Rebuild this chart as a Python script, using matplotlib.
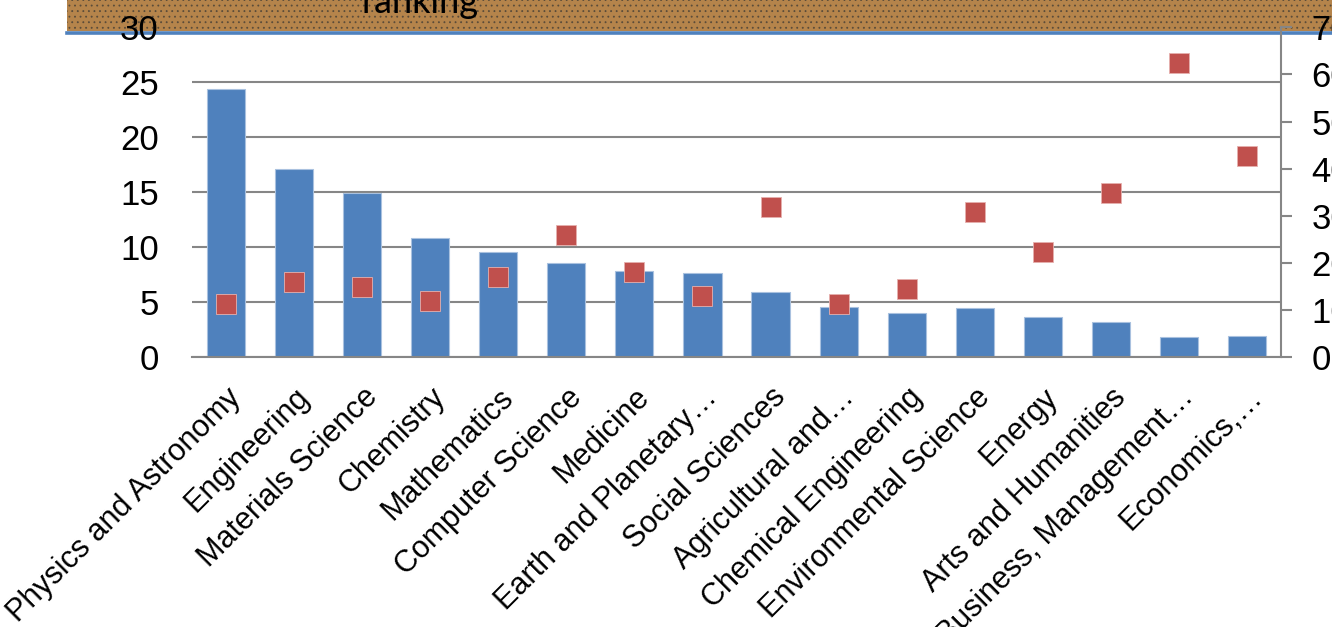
import matplotlib
matplotlib.use('Agg')
from matplotlib import pyplot as plt
from matplotlib import font_manager
from matplotlib.patches import Rectangle
from matplotlib.lines import Line2D

subjects = ['Physics and Astronomy', 'Engineering', 'Materials Science', 'Chemistry',
            'Mathematics', 'Computer Science', 'Medicine', 'Earth and Planetary…',
            'Social Sciences', 'Agricultural and…', 'Chemical Engineering',
            'Environmental Science', 'Energy', 'Arts and Humanities',
            'Business, Management…', 'Economics,…']
share = [24.4, 17.1, 14.9, 10.8, 9.55, 8.6, 7.8, 7.7,
         5.9, 4.57, 4.03, 4.48, 3.64, 3.21, 1.82, 1.94]
ranking = [11.3, 16.0, 14.85, 11.9, 17.1, 25.9, 18.0, 12.9,
           31.9, 11.3, 14.4, 30.8, 22.4, 34.8, 62.4, 42.6]
left_ticks = [0, 5, 10, 15, 20, 25, 30]
right_ticks = [0, 10, 20, 30, 40, 50, 60, 70]

# a narrow Arial-like face if there is one, else Liberation Sans
names = {f.name for f in font_manager.fontManager.ttflist}
if 'Liberation Sans Narrow' in names:
    plt.rcParams['font.family'] = ['Liberation Sans Narrow', 'DejaVu Sans']
else:
    plt.rcParams['font.family'] = ['Liberation Sans', 'DejaVu Sans']
plt.rcParams['hatch.linewidth'] = 0.6

fig = plt.figure(figsize=(13.32, 6.27), dpi=100)
ax = fig.add_axes([192/1332, 1-357.3/627, (1281-192)/1332, 330/627])
ax2 = ax.twinx()

# title banner, mostly cut off at the top
fig.patches.append(Rectangle((67/1332, 1-31/627), 1, 31/627, transform=fig.transFigure,
                             facecolor='#b5844b', edgecolor='#5a4c3a', hatch='...',
                             linewidth=0, zorder=-5))
fig.lines.append(Line2D([67/1332, 1], [1-32.5/627, 1-32.5/627], transform=fig.transFigure,
                        color='#4f81bd', linewidth=2.6, zorder=-4))
fig.text(362/1332, 1-13/627, 'ranking', family='Lato', fontsize=26, va='baseline',
         ha='left', zorder=-3)

ax.patch.set_visible(False)
ax2.patch.set_visible(False)

x = list(range(len(subjects)))
ax.bar(x, share, width=0.56, color='#4f81bd', edgecolor='#a9c1df', linewidth=0.8, zorder=2)
ax2.plot(x, ranking, linestyle='none', marker='s', markersize=14, color='#c0504d',
         markeredgecolor='#e6b0ae', markeredgewidth=0.6, zorder=3)

ax.set_xlim(-0.5, len(subjects) - 0.5)
ax.set_ylim(0, 30)
ax2.set_ylim(0, 70)
ax.set_yticks(left_ticks)
ax2.set_yticks(right_ticks)
ax.yaxis.grid(True, color='#868686', linewidth=1.5, zorder=0)
ax.set_axisbelow(True)
ax.get_ygridlines()[-1].set_visible(False)

for s in ['top', 'left', 'right']:
    ax.spines[s].set_visible(False)
for s in ['top', 'left', 'bottom']:
    ax2.spines[s].set_visible(False)
ax.spines['bottom'].set_color('#868686')
ax.spines['bottom'].set_linewidth(1.5)
ax2.spines['right'].set_color('#868686')
ax2.spines['right'].set_linewidth(1.5)

ax.tick_params(axis='y', length=0, pad=24, labelsize=25)
ax2.tick_params(axis='y', length=8, width=1.5, color='#868686', direction='out',
                pad=14, labelsize=25)
ax.set_xticks(x)
ax.set_xticklabels(subjects, rotation=45, ha='right', va='top', rotation_mode='anchor',
                   fontsize=22)
ax.tick_params(axis='x', length=0, pad=18)

fig.savefig('out.png', dpi=100)
